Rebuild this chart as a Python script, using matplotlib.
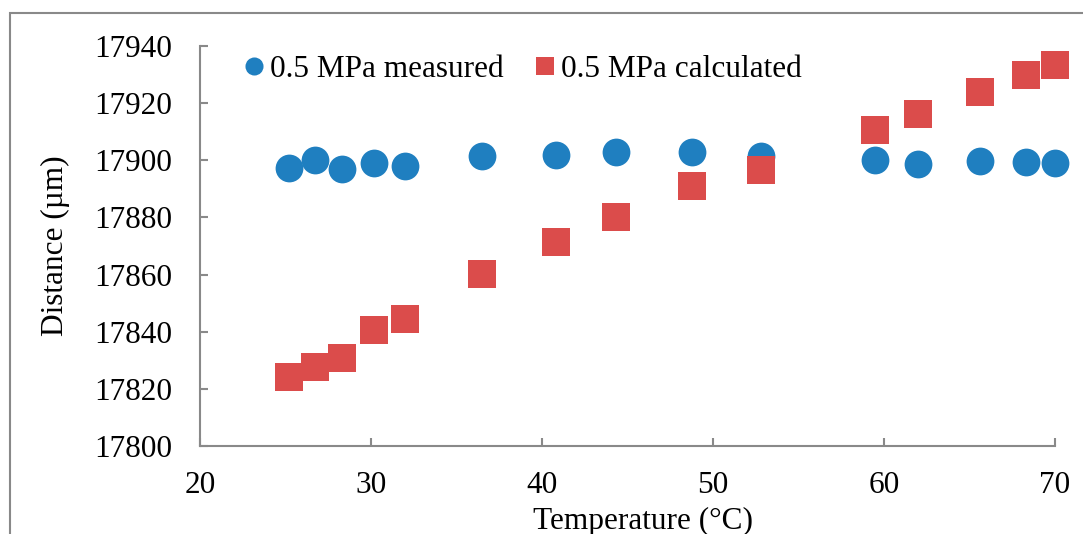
import matplotlib
matplotlib.use("Agg")
import matplotlib.pyplot as plt
from matplotlib.patches import Rectangle

# values
temperature = [25.2, 26.7, 28.3, 30.2, 32.0, 36.5, 40.8, 44.3, 48.8, 52.8,
               59.5, 62.0, 65.6, 68.3, 70.0]
measured = [17897.4, 17900.1, 17897.1, 17899.2, 17897.9, 17901.4, 17901.7, 17903.0,
            17902.8, 17901.4, 17900.2, 17898.7, 17899.6, 17899.3, 17899.2]
calculated = [17824.0, 17827.8, 17830.9, 17840.6, 17844.4, 17860.1, 17871.5, 17880.3,
              17890.9, 17896.6, 17910.5, 17916.3, 17923.8, 17929.8, 17933.4]
x_ticks = [20, 30, 40, 50, 60, 70]
y_ticks = [17800, 17820, 17840, 17860, 17880, 17900, 17920, 17940]

plt.rcParams["font.family"] = ["Liberation Serif", "DejaVu Serif"]

BLUE = "#1f7fc0"
RED = "#db4c4b"
GREY = "#898989"
FS = 22.5

fig = plt.figure(figsize=(10.83, 5.34), dpi=100)
ax = fig.add_axes([200 / 1083, 88 / 534, 855 / 1083, 400 / 534])

ax.plot(temperature, measured, "o", color=BLUE, markersize=20, markeredgewidth=0,
        clip_on=False, label="0.5 MPa measured")
ax.plot(temperature, calculated, "s", color=RED, markersize=20, markeredgewidth=0,
        clip_on=False, label="0.5 MPa calculated")

ax.set_xlim(20, 70)
ax.set_ylim(17800, 17940)
ax.set_xticks(x_ticks)
ax.set_yticks(y_ticks)
ax.tick_params(direction="in", length=6, width=1.5, color=GREY, labelsize=FS, pad=20)
ax.tick_params(axis="x", pad=18)
for side in ("top", "right"):
    ax.spines[side].set_visible(False)
for side in ("left", "bottom"):
    ax.spines[side].set_color(GREY)
    ax.spines[side].set_linewidth(1.5)

ax.set_ylabel("Distance (µm)", fontsize=FS)
ax.yaxis.set_label_coords(-0.152, 0.5)
ax.set_xlabel("Temperature (°C)", fontsize=FS)
ax.xaxis.set_label_coords(0.518, -0.152)

leg = ax.legend(loc="upper left", bbox_to_anchor=(0.043, 0.99), ncol=2, frameon=False,
                fontsize=FS, markerscale=0.65, handlelength=0.8, handletextpad=0.1,
                columnspacing=0.95, borderaxespad=0, borderpad=0.15)

# outer chart frame (cut off at right and bottom in the reference)
fig.patches.append(Rectangle((10 / 1083, -0.1), 1.2, 1.1 - 13 / 534,
                             transform=fig.transFigure, fill=False,
                             edgecolor=GREY, linewidth=1.5))

fig.savefig("out.png", dpi=100)
